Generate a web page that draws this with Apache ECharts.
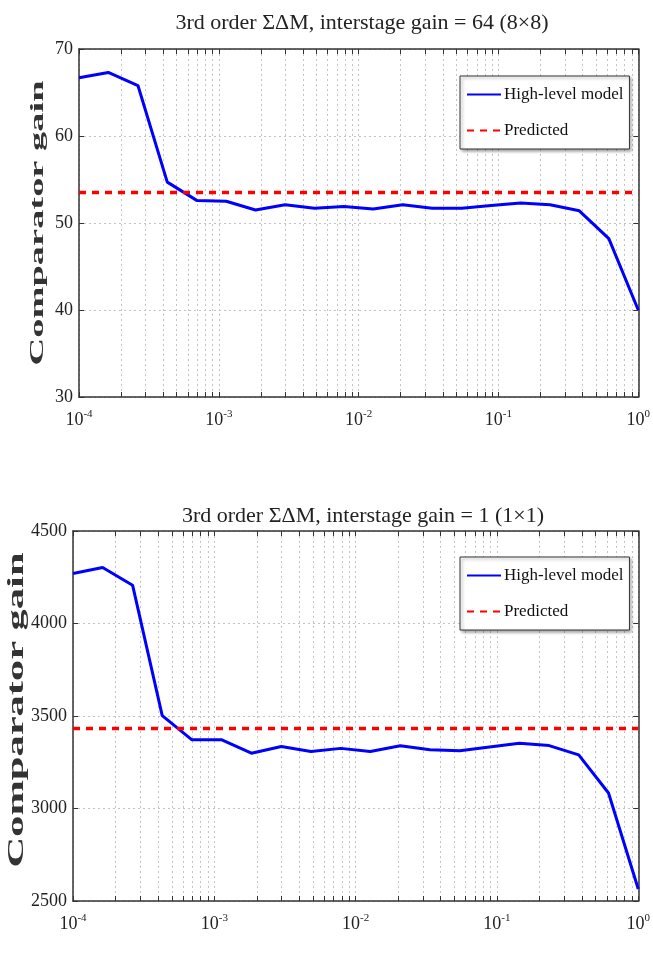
<!DOCTYPE html>
<html>
<head>
<meta charset="utf-8">
<script src="https://cdn.jsdelivr.net/npm/echarts@6/dist/echarts.min.js"></script>
<style>
  html, body { margin: 0; padding: 0; background: #fff; }
  #main { width: 653px; height: 960px; }
</style>
</head>
<body>
<div id="main"></div>
<script>
// sweep points (input amplitude)
const xValues = [1e-4, 1.62e-4, 2.64e-4, 4.28e-4, 6.95e-4, 1.13e-3, 1.83e-3, 2.98e-3,
  4.83e-3, 7.85e-3, 1.27e-2, 2.07e-2, 3.36e-2, 5.46e-2, 8.86e-2, 0.144, 0.234, 0.379, 0.616, 1];

const modelGain64 = [66.7, 67.3, 65.8, 54.7, 52.6, 52.5, 51.5, 52.1, 51.7, 51.9,
  51.6, 52.1, 51.7, 51.7, 52.0, 52.3, 52.1, 51.4, 48.2, 40.0];
const predicted64 = 53.5;

const modelGain1 = [4270, 4303, 4207, 3502, 3371, 3371, 3299, 3335, 3308, 3325,
  3308, 3339, 3317, 3312, 3333, 3353, 3340, 3290, 3084, 2565];
const predicted1 = 3432;

const titles = ['3rd order ΣΔM, interstage gain = 64 (8×8)', '3rd order ΣΔM, interstage gain = 1 (1×1)'];
const seriesNames = ['High-level model', 'Predicted'];
const yLabel = 'Comparator gain';

const decadeTicks = [1e-4, 1e-3, 1e-2, 1e-1, 1];
const minorMult = [2, 3, 4, 5, 6, 7, 8, 9];

const allTicks = [];
decadeTicks.forEach(function (d, i) {
  allTicks.push(d);
  if (i < decadeTicks.length - 1) minorMult.forEach(function (m) { allTicks.push(+(d * m).toPrecision(3)); });
});

const serif = '"Liberation Serif", "DejaVu Serif", serif';
const grey = '#c4c4c4';

function pairs(ys) {
  return ys.map(function (y, i) { return [xValues[i], y]; });
}

function xAxisPair(gridIndex) {
  return [{
    type: 'log', gridIndex: gridIndex, min: 1e-4, max: 1, position: 'bottom',
    axisLine: { lineStyle: { color: '#333', width: 1.5 } },
    axisTick: { inside: true, length: 5, customValues: allTicks, lineStyle: { color: '#333' } },
    axisLabel: {
      customValues: decadeTicks, margin: 12, color: '#222', fontFamily: serif, fontSize: 18,
      formatter: function (v) { return '10{sup|' + Math.round(Math.log10(v)) + '}'; },
      rich: { sup: { fontSize: 11, fontFamily: serif, color: '#222', padding: [0, 0, 11, 0] } }
    },
    splitLine: { show: false }
  }, {
    type: 'log', gridIndex: gridIndex, min: 1e-4, max: 1, position: 'top',
    axisLine: { lineStyle: { color: '#333', width: 1.5 } },
    axisTick: { inside: true, length: 5, customValues: allTicks, lineStyle: { color: '#333' } },
    axisLabel: { show: false },
    splitLine: { show: true, lineStyle: { color: grey, type: [2, 3], width: 1 } }
  }];
}

function yAxisPair(gridIndex, min, max, interval) {
  return [{
    type: 'value', gridIndex: gridIndex, min: min, max: max, interval: interval, position: 'left',
    axisLine: { show: true, lineStyle: { color: '#333', width: 1.5 } },
    axisTick: { show: true, inside: true, length: 5, lineStyle: { color: '#333' } },
    axisLabel: { color: '#222', fontFamily: serif, fontSize: 18, margin: 6, formatter: function (v) { return String(v); } },
    splitLine: { show: true, lineStyle: { color: grey, type: [2, 3], width: 1 } }
  }, {
    type: 'value', gridIndex: gridIndex, min: min, max: max, interval: interval, position: 'right',
    axisLine: { show: true, lineStyle: { color: '#333', width: 1.5 } },
    axisTick: { show: true, inside: true, length: 5, lineStyle: { color: '#333' } },
    axisLabel: { show: false },
    splitLine: { show: false }
  }];
}

function legendBox(top) {
  return {
    orient: 'vertical', left: 460, top: top,
    data: seriesNames, itemWidth: 34, itemHeight: 12, itemGap: 19,
    padding: [10, 6, 10, 6],
    backgroundColor: '#fff', borderColor: '#333', borderWidth: 1, borderRadius: 0,
    shadowColor: 'rgba(0,0,0,0.35)', shadowBlur: 3, shadowOffsetX: 2, shadowOffsetY: 2,
    itemStyle: { opacity: 0 },
    textStyle: { fontFamily: serif, fontSize: 17, color: '#111', padding: [0, 0, 0, -2] },
    selectedMode: false
  };
}

// stretched vertical axis title, like the original figure
function yTitle(cx, cy, size, span) {
  const ctx = document.createElement('canvas').getContext('2d');
  ctx.font = 'bold ' + size + 'px "Liberation Serif"';
  const w = ctx.measureText(yLabel).width;
  return {
    type: 'text', x: cx, y: cy, rotation: Math.PI / 2, scaleX: span / w, silent: true,
    style: { text: yLabel, font: 'bold ' + size + 'px ' + serif, fill: '#333', align: 'center', verticalAlign: 'middle' }
  };
}

const chart = echarts.init(document.getElementById('main'));

chart.setOption({
  animation: false,
  backgroundColor: '#fff',
  title: [
    { text: titles[0], left: 357, top: 7, textAlign: 'center',
      textStyle: { fontFamily: serif, fontSize: 22, fontWeight: 'normal', color: '#222' } },
    { text: titles[1], left: 358, top: 500, textAlign: 'center',
      textStyle: { fontFamily: serif, fontSize: 22, fontWeight: 'normal', color: '#222' } }
  ],
  legend: [legendBox(76), legendBox(557)],
  grid: [
    { left: 79, top: 49, width: 562, height: 348 },
    { left: 73, top: 531, width: 568, height: 370 }
  ],
  xAxis: xAxisPair(0).concat(xAxisPair(1)),
  yAxis: yAxisPair(0, 30, 70, 10).concat(yAxisPair(1, 2500, 4500, 500)),
  graphic: [yTitle(38, 223, 19, 285), yTitle(17, 710, 23, 315)],
  series: [
    { name: seriesNames[0], type: 'line', xAxisIndex: 0, yAxisIndex: 0, data: pairs(modelGain64),
      symbol: 'none', lineStyle: { color: '#0000ff', width: 3 }, itemStyle: { color: '#0000ff' } },
    { name: seriesNames[1], type: 'line', xAxisIndex: 0, yAxisIndex: 0,
      data: [[xValues[0], predicted64], [xValues[xValues.length - 1], predicted64]],
      symbol: 'none', lineStyle: { color: '#ff0000', width: 3.5, type: [7, 6] }, itemStyle: { color: '#ff0000' } },
    { name: seriesNames[0], type: 'line', xAxisIndex: 2, yAxisIndex: 2, data: pairs(modelGain1),
      symbol: 'none', lineStyle: { color: '#0000ff', width: 3 }, itemStyle: { color: '#0000ff' } },
    { name: seriesNames[1], type: 'line', xAxisIndex: 2, yAxisIndex: 2,
      data: [[xValues[0], predicted1], [xValues[xValues.length - 1], predicted1]],
      symbol: 'none', lineStyle: { color: '#ff0000', width: 3.5, type: [7, 6] }, itemStyle: { color: '#ff0000' } }
  ]
});
</script>
</body>
</html>
